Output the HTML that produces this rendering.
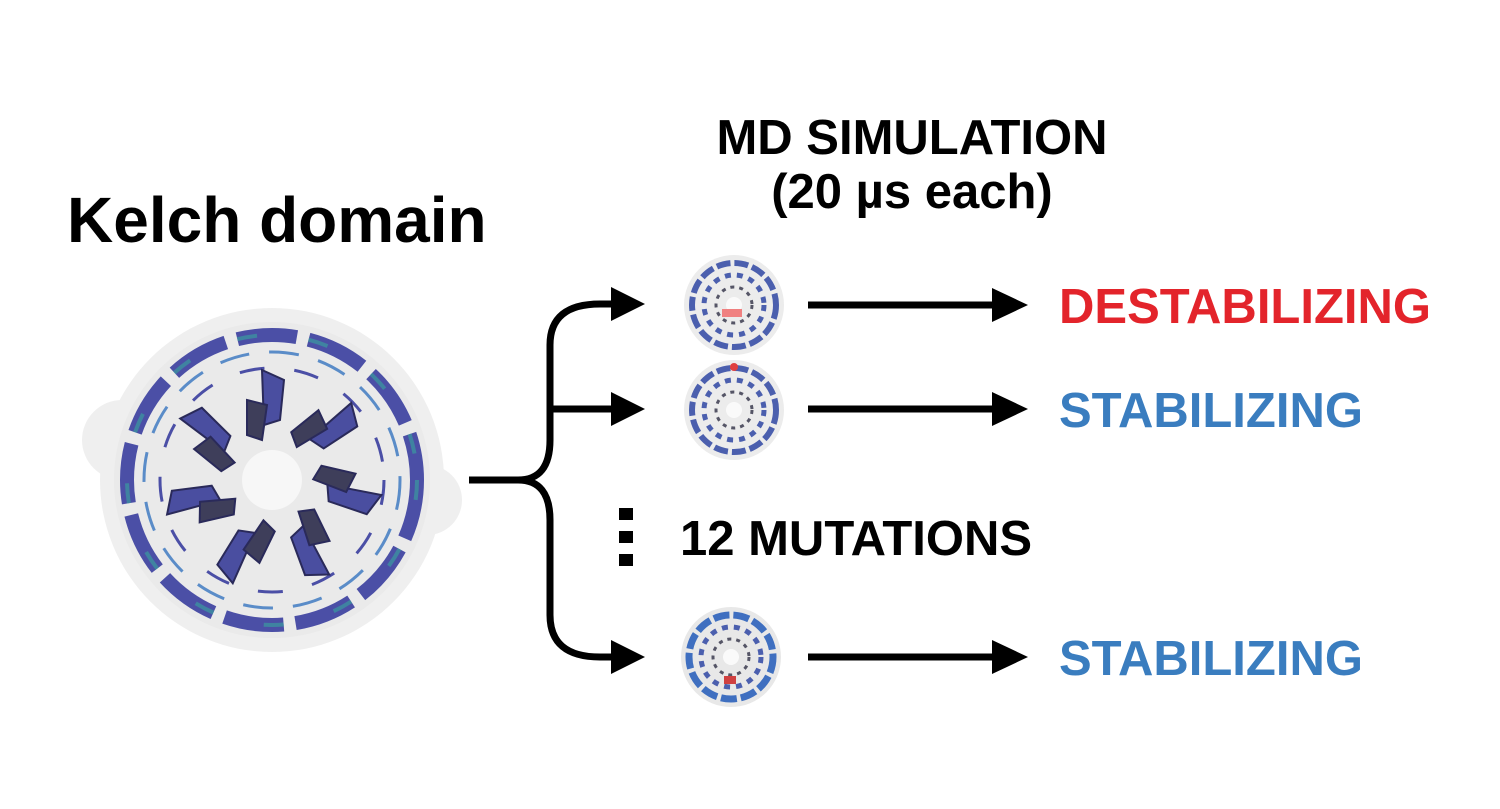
<!DOCTYPE html>
<html><head><style>
html,body{margin:0;padding:0;background:#fff;}
body{width:1500px;height:809px;position:relative;overflow:hidden;font-family:"Liberation Sans",Arial,sans-serif;font-weight:bold;}
.t{position:absolute;white-space:nowrap;line-height:1;}
</style></head><body>
<svg width="1500" height="809" style="position:absolute;left:0;top:0">
<!-- big protein -->
<g transform="translate(272,480)">
  <circle r="172" fill="#efefef"/>
  <circle cx="-150" cy="-40" r="40" fill="#efefef"/>
  <circle cx="155" cy="20" r="35" fill="#efefef"/>
  <circle r="158" fill="#e6e6e6" opacity="0.6"/>
  <circle r="145" fill="none" stroke="#4b4fa6" stroke-width="14" stroke-dasharray="60 12"/>
  <circle r="145" fill="none" stroke="#3a9aa0" stroke-width="4" stroke-dasharray="20 52" opacity="0.7"/>
  <circle r="128" fill="none" stroke="#5a8cc8" stroke-width="3" stroke-dasharray="30 20"/>
  <circle r="112" fill="none" stroke="#4b4fa6" stroke-width="3" stroke-dasharray="25 30"/>
  <g fill="#4a4ea0" stroke="#2a2a5a" stroke-width="2">
    <g id="blade"><path d="M-10,-110 L12,-100 L8,-60 L-8,-55 Z"/><path d="M-25,-80 L-5,-75 L-10,-40 L-25,-45 Z" fill="#3e3e5a"/></g>
    <use href="#blade" transform="rotate(51)"/><use href="#blade" transform="rotate(103)"/>
    <use href="#blade" transform="rotate(154)"/><use href="#blade" transform="rotate(206)"/>
    <use href="#blade" transform="rotate(257)"/><use href="#blade" transform="rotate(309)"/>
  </g>
  <circle r="30" fill="#f7f7f7"/>
</g>
<!-- small proteins -->
<g transform="translate(734,305)">
  <circle r="50" fill="#ececec"/>
  <circle r="42" fill="none" stroke="#4b5fae" stroke-width="6" stroke-dasharray="14 4"/>
  <circle r="30" fill="none" stroke="#4b5fae" stroke-width="5" stroke-dasharray="6 6"/>
  <circle r="18" fill="none" stroke="#556" stroke-width="3" stroke-dasharray="4 5"/>
  <circle r="8" fill="#fafafa"/>
</g>
<rect x="722" y="309" width="20" height="8" fill="#f08080"/>
<g transform="translate(734,410)">
  <circle r="50" fill="#ececec"/>
  <circle r="42" fill="none" stroke="#4b5fae" stroke-width="6" stroke-dasharray="14 4"/>
  <circle r="30" fill="none" stroke="#4b5fae" stroke-width="5" stroke-dasharray="6 6"/>
  <circle r="18" fill="none" stroke="#556" stroke-width="3" stroke-dasharray="4 5"/>
  <circle r="8" fill="#fafafa"/>
</g>
<circle cx="734" cy="367" r="4" fill="#e04040"/>
<g transform="translate(731,657)">
  <circle r="50" fill="#e8e8e8"/>
  <circle r="42" fill="none" stroke="#3f6fc0" stroke-width="7" stroke-dasharray="16 4"/>
  <circle r="30" fill="none" stroke="#4b5fae" stroke-width="5" stroke-dasharray="6 6"/>
  <circle r="18" fill="none" stroke="#556" stroke-width="3" stroke-dasharray="4 5"/>
  <circle r="8" fill="#fafafa"/>
</g>
<rect x="724" y="676" width="12" height="8" fill="#d04040"/>
<!-- bracket -->
<g fill="none" stroke="#000" stroke-width="7">
  <path d="M469,480 L518,480 Q550,480 550,440 L550,345 Q550,304 600,304 L615,304"/>
  <path d="M518,480 Q550,480 550,520 L550,615 Q550,657 600,657 L615,657"/>
  <path d="M552,409 L615,409"/>
  <path d="M808,305 L995,305 M808,409 L995,409 M808,657 L995,657"/>
</g>
<g fill="#000">
  <polygon points="611,287 645,304 611,321"/>
  <polygon points="611,392 645,409 611,426"/>
  <polygon points="611,640 645,657 611,674"/>
  <polygon points="992,288 1028,305 992,322"/>
  <polygon points="992,392 1028,409 992,426"/>
  <polygon points="992,640 1028,657 992,674"/>
  <rect x="619" y="508" width="14" height="12"/>
  <rect x="619" y="531" width="14" height="12"/>
  <rect x="619" y="554" width="14" height="12"/>
</g>
</svg>
<div class="t" style="left:67px;top:188px;font-size:64px;color:#000">Kelch domain</div>
<div class="t" style="left:612px;top:114px;font-size:49px;color:#000;width:600px;text-align:center;">MD SIMULATION</div>
<div class="t" style="left:612px;top:168px;font-size:49px;color:#000;width:600px;text-align:center;">(20 µs each)</div>
<div class="t" style="left:1059px;top:283px;font-size:49px;color:#e3242b">DESTABILIZING</div>
<div class="t" style="left:1059px;top:387px;font-size:49px;color:#3a7dbf">STABILIZING</div>
<div class="t" style="left:1059px;top:635px;font-size:49px;color:#3a7dbf">STABILIZING</div>
<div class="t" style="left:680px;top:515px;font-size:49px;color:#000">12 MUTATIONS</div>
</body></html>
